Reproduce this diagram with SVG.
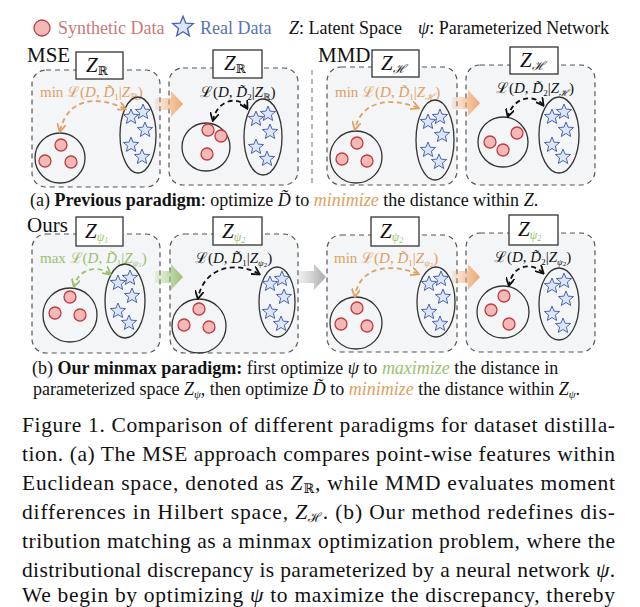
<svg xmlns="http://www.w3.org/2000/svg" width="640" height="607" viewBox="0 0 640 607">
<style>
text{font-family:"Liberation Serif","DejaVu Serif",serif;fill:#111}
.pan{fill:#f4f5f7;stroke:#555;stroke-width:1.2;stroke-dasharray:5,4}
.box{fill:#fff;stroke:#333;stroke-width:1.3}
.grp{fill:none;stroke:#333;stroke-width:1.3}
.syn{fill:#f3b9b9;stroke:#c03c3c;stroke-width:1.3}
.star{fill:#dde6f7;stroke:#4a64b4;stroke-width:1}
.lbl{font-size:21px;font-style:italic}
.f{font-size:15px}
.cap{font-size:21.5px}
.sm{font-size:18px}
.ca{fill:none;stroke-width:1.8;stroke-dasharray:5,3.5}
</style>
<defs>
<path id="st" d="M0,-8 L2.06,-2.83 7.61,-2.47 3.33,1.08 4.7,6.47 0,3.5 -4.7,6.47 -3.33,1.08 -7.61,-2.47 -2.06,-2.83Z"/>
<g id="stars" class="star"><use href="#st" x="-7" y="-18"/><use href="#st" x="5" y="-23"/><use href="#st" x="7" y="-5"/><use href="#st" x="-7" y="10"/><use href="#st" x="4" y="22"/></g>
<marker id="mo" viewBox="0 0 10 10" refX="8" refY="5" markerWidth="5" markerHeight="5" orient="auto-start-reverse"><path d="M0,0 L9,5 L0,10" fill="none" stroke="#e0a060" stroke-width="2"/></marker>
<marker id="mg" viewBox="0 0 10 10" refX="8" refY="5" markerWidth="5" markerHeight="5" orient="auto-start-reverse"><path d="M0,0 L9,5 L0,10" fill="none" stroke="#9cc070" stroke-width="2"/></marker>
<marker id="mk" viewBox="0 0 10 10" refX="8" refY="5" markerWidth="5" markerHeight="5" orient="auto-start-reverse"><path d="M0,0 L9,5 L0,10" fill="none" stroke="#111" stroke-width="2"/></marker>
<linearGradient id="go"><stop offset="0" stop-color="#f0b080" stop-opacity="0.2"/><stop offset="1" stop-color="#f0a870"/></linearGradient>
<linearGradient id="gg"><stop offset="0" stop-color="#a8cc88" stop-opacity="0.2"/><stop offset="1" stop-color="#9cc070"/></linearGradient>
<linearGradient id="gy"><stop offset="0" stop-color="#bbb" stop-opacity="0.2"/><stop offset="1" stop-color="#aaa"/></linearGradient>
<path id="bar" d="M0,-6 L16,-6 L16,-13 L28,0 L16,13 L16,6 L0,6Z"/>
</defs>

<g id="legend">
<circle class="syn" cx="42" cy="28" r="8"/>
<text x="58" y="34" font-size="18" style="fill:#c97a7a">Synthetic Data</text>
<use href="#st" transform="translate(183 27) scale(1.35)" class="star"/>
<text x="200" y="34" font-size="18" style="fill:#5a74b0">Real Data</text>
<text x="289" y="34" font-size="18"><tspan font-style="italic">Z</tspan>: Latent Space</text>
<text x="418" y="34" font-size="18"><tspan font-style="italic">ψ</tspan>: Parameterized Network</text>
</g>

<text x="27" y="62" font-size="21">MSE</text>
<text x="318" y="62" font-size="21">MMD</text>
<text x="27" y="232" font-size="21">Ours</text>
<line x1="312" y1="70" x2="312" y2="186" stroke="#888" stroke-width="1.2" stroke-dasharray="5,4"/>

<g id="p1">
<rect class="pan" x="32" y="70" width="128" height="117" rx="14"/>
<rect class="box" x="76" y="52" width="47" height="27"/>
<text class="lbl" x="86" y="72">Z<tspan font-size="12" font-style="normal" dy="3">ℝ</tspan></text>
<text class="f" x="40" y="97" style="fill:#e0a060">min ℒ(<tspan font-style="italic">D</tspan>, <tspan font-style="italic">D̃</tspan><tspan font-size="9" dy="3">1</tspan><tspan dy="-3">|</tspan><tspan font-style="italic">Z</tspan><tspan font-size="9" dy="3">ℝ</tspan><tspan dy="-3">)</tspan></text>
<circle class="grp" cx="60" cy="158" r="25"/>
<circle class="syn" cx="61" cy="145" r="6"/><circle class="syn" cx="45" cy="161" r="6"/><circle class="syn" cx="71" cy="162" r="6"/>
<ellipse class="grp" cx="138" cy="135" rx="18" ry="38"/>
<use href="#stars" x="138" y="135"/>
</g>
<g id="p2">
<rect class="pan" x="169" y="68" width="129" height="117" rx="14"/>
<rect class="box" x="213" y="50" width="49" height="28"/>
<text class="lbl" x="224" y="70">Z<tspan font-size="12" font-style="normal" dy="3">ℝ</tspan></text>
<text class="f" x="200" y="97">ℒ(<tspan font-style="italic">D</tspan>, <tspan font-style="italic">D̃</tspan><tspan font-size="9" dy="3">2</tspan><tspan dy="-3">|</tspan><tspan font-style="italic">Z</tspan><tspan font-size="9" dy="3">ℝ</tspan><tspan dy="-3">)</tspan></text>
<circle class="grp" cx="206" cy="147" r="24"/>
<circle class="syn" cx="208" cy="130" r="6"/><circle class="syn" cx="221" cy="136" r="6"/><circle class="syn" cx="207" cy="154" r="6"/>
<ellipse class="grp" cx="263" cy="137" rx="19" ry="38"/>
<use href="#stars" x="263" y="137"/>
</g>
<g id="p3">
<rect class="pan" x="327" y="67" width="130" height="118" rx="14"/>
<rect class="box" x="372" y="50" width="47" height="27"/>
<text class="lbl" x="381" y="70">Z<tspan font-size="12" dy="3">ℋ</tspan></text>
<text class="f" x="335" y="97" style="fill:#e0a060">min ℒ(<tspan font-style="italic">D</tspan>, <tspan font-style="italic">D̃</tspan><tspan font-size="9" dy="3">1</tspan><tspan dy="-3">|</tspan><tspan font-style="italic">Z</tspan><tspan font-size="9" dy="3" font-style="italic">ℋ</tspan><tspan dy="-3">)</tspan></text>
<circle class="grp" cx="356" cy="157" r="26"/>
<circle class="syn" cx="357" cy="143" r="6"/><circle class="syn" cx="342" cy="159" r="6"/><circle class="syn" cx="367" cy="161" r="6"/>
<ellipse class="grp" cx="435" cy="140" rx="19" ry="40"/>
<use href="#stars" x="435" y="140"/>
</g>
<g id="p4">
<rect class="pan" x="466" y="65" width="129" height="120" rx="14"/>
<rect class="box" x="510" y="47" width="48" height="27"/>
<text class="lbl" x="520" y="67">Z<tspan font-size="12" dy="3">ℋ</tspan></text>
<text class="f" x="496" y="93">ℒ(<tspan font-style="italic">D</tspan>, <tspan font-style="italic">D̃</tspan><tspan font-size="9" dy="3">2</tspan><tspan dy="-3">|</tspan><tspan font-style="italic">Z</tspan><tspan font-size="9" dy="3" font-style="italic">ℋ</tspan><tspan dy="-3">)</tspan></text>
<circle class="grp" cx="503" cy="142" r="25"/>
<circle class="syn" cx="490" cy="142" r="6"/><circle class="syn" cx="503" cy="150" r="6"/><circle class="syn" cx="517" cy="133" r="6"/>
<ellipse class="grp" cx="559" cy="135" rx="20" ry="38"/>
<use href="#stars" x="559" y="135"/>
</g>

<text x="30" y="206" class="sm">(a) <tspan font-weight="bold">Previous paradigm</tspan>: optimize <tspan font-style="italic">D̃</tspan> to <tspan font-style="italic" style="fill:#e0a060">minimize</tspan> the distance within <tspan font-style="italic">Z</tspan>.</text>

<g id="p5">
<rect class="pan" x="32" y="234" width="128" height="119" rx="14"/>
<rect class="box" x="76" y="217" width="47" height="29"/>
<text class="lbl" x="85" y="238">Z<tspan font-size="12" dy="3" font-style="italic" style="fill:#9cc070">ψ</tspan><tspan font-size="8" dy="2" style="fill:#9cc070">1</tspan></text>
<text class="f" x="40" y="263" style="fill:#9cc070">max ℒ(<tspan font-style="italic">D</tspan>, <tspan font-style="italic">D̃</tspan><tspan font-size="9" dy="3">1</tspan><tspan dy="-3">|</tspan><tspan font-style="italic">Z</tspan><tspan font-size="9" dy="3" font-style="italic">ψ</tspan><tspan font-size="7" dy="1">1</tspan><tspan dy="-4">)</tspan></text>
<circle class="grp" cx="70" cy="315" r="27"/>
<circle class="syn" cx="70" cy="297" r="6"/><circle class="syn" cx="55" cy="313" r="6"/><circle class="syn" cx="80" cy="315" r="6"/>
<ellipse class="grp" cx="125" cy="301" rx="20" ry="37"/>
<use href="#stars" x="125" y="301"/>
</g>
<g id="p6">
<rect class="pan" x="170" y="234" width="128" height="119" rx="14"/>
<rect class="box" x="213" y="217" width="49" height="28"/>
<text class="lbl" x="222" y="238">Z<tspan font-size="12" dy="3" font-style="italic" style="fill:#9cc070">ψ</tspan><tspan font-size="8" dy="2" style="fill:#9cc070">2</tspan></text>
<text class="f" x="195" y="263">ℒ(<tspan font-style="italic">D</tspan>, <tspan font-style="italic">D̃</tspan><tspan font-size="9" dy="3">1</tspan><tspan dy="-3">|</tspan><tspan font-style="italic">Z</tspan><tspan font-size="9" dy="3" font-style="italic">ψ</tspan><tspan font-size="7" dy="1">2</tspan><tspan dy="-4">)</tspan></text>
<circle class="grp" cx="199" cy="326" r="27"/>
<circle class="syn" cx="199" cy="309" r="6"/><circle class="syn" cx="184" cy="325" r="6"/><circle class="syn" cx="209" cy="327" r="6"/>
<ellipse class="grp" cx="277" cy="302" rx="18" ry="35"/>
<use href="#stars" x="277" y="302"/>
</g>
<g id="p7">
<rect class="pan" x="327" y="235" width="130" height="117" rx="14"/>
<rect class="box" x="371" y="217" width="48" height="29"/>
<text class="lbl" x="380" y="238">Z<tspan font-size="12" dy="3" font-style="italic" style="fill:#9cc070">ψ</tspan><tspan font-size="8" dy="2" style="fill:#9cc070">2</tspan></text>
<text class="f" x="334" y="263" style="fill:#e0a060">min ℒ(<tspan font-style="italic">D</tspan>, <tspan font-style="italic">D̃</tspan><tspan font-size="9" dy="3">1</tspan><tspan dy="-3">|</tspan><tspan font-style="italic">Z</tspan><tspan font-size="9" dy="3" font-style="italic">ψ</tspan><tspan font-size="7" dy="1">2</tspan><tspan dy="-4">)</tspan></text>
<circle class="grp" cx="356" cy="323" r="26"/>
<circle class="syn" cx="357" cy="308" r="6"/><circle class="syn" cx="341" cy="324" r="6"/><circle class="syn" cx="367" cy="326" r="6"/>
<ellipse class="grp" cx="436" cy="302" rx="19" ry="35"/>
<use href="#stars" x="436" y="302"/>
</g>
<g id="p8">
<rect class="pan" x="466" y="233" width="129" height="119" rx="14"/>
<rect class="box" x="509" y="215" width="49" height="30"/>
<text class="lbl" x="518" y="236">Z<tspan font-size="12" dy="3" font-style="italic" style="fill:#9cc070">ψ</tspan><tspan font-size="8" dy="2" style="fill:#9cc070">2</tspan></text>
<text class="f" x="494" y="262">ℒ(<tspan font-style="italic">D</tspan>, <tspan font-style="italic">D̃</tspan><tspan font-size="9" dy="3">2</tspan><tspan dy="-3">|</tspan><tspan font-style="italic">Z</tspan><tspan font-size="9" dy="3" font-style="italic">ψ</tspan><tspan font-size="7" dy="1">2</tspan><tspan dy="-4">)</tspan></text>
<circle class="grp" cx="503" cy="312" r="26"/>
<circle class="syn" cx="504" cy="296" r="6"/><circle class="syn" cx="491" cy="310" r="6"/><circle class="syn" cx="509" cy="324" r="6"/>
<ellipse class="grp" cx="559" cy="304" rx="20" ry="36"/>
<use href="#stars" x="559" y="304"/>
</g>

<g id="connectors">
<use href="#bar" x="155" y="104" fill="url(#go)"/>
<use href="#bar" x="452" y="103" fill="url(#go)"/>
<use href="#bar" x="155" y="277" fill="url(#gg)"/>
<use href="#bar" x="298" y="277" fill="url(#gy)"/>
<use href="#bar" x="452" y="277" fill="url(#go)"/>
<path class="ca" stroke="#e0a060" d="M125,109 C100,96 68,96 60,131" marker-start="url(#mo)" marker-end="url(#mo)"/>
<path class="ca" stroke="#111" d="M247,108 C240,96 218,98 213,120" marker-start="url(#mk)" marker-end="url(#mk)"/>
<path class="ca" stroke="#e0a060" d="M418,108 C395,98 362,98 355,129" marker-start="url(#mo)" marker-end="url(#mo)"/>
<path class="ca" stroke="#111" d="M543,105 C535,94 514,96 508,116" marker-start="url(#mk)" marker-end="url(#mk)"/>
<path class="ca" stroke="#9cc070" d="M110,274 C100,266 80,266 74,286" marker-start="url(#mg)" marker-end="url(#mg)"/>
<path class="ca" stroke="#111" d="M259,274 C240,262 205,264 198,298" marker-start="url(#mk)" marker-end="url(#mk)"/>
<path class="ca" stroke="#e0a060" d="M418,274 C395,264 360,264 355,296" marker-start="url(#mo)" marker-end="url(#mo)"/>
<path class="ca" stroke="#111" d="M543,273 C532,262 513,264 509,285" marker-start="url(#mk)" marker-end="url(#mk)"/>
</g>

<text x="32" y="374" class="sm">(b) <tspan font-weight="bold">Our minmax paradigm:</tspan> first optimize <tspan font-style="italic">ψ</tspan> to <tspan font-style="italic" style="fill:#9cc070">maximize</tspan> the distance in</text>
<text x="33" y="395" class="sm">parameterized space <tspan font-style="italic">Z</tspan><tspan font-size="11" dy="3" font-style="italic">ψ</tspan><tspan dy="-3">,  then optimize </tspan><tspan font-style="italic">D̃</tspan> to <tspan font-style="italic" style="fill:#e0a060">minimize</tspan> the distance within <tspan font-style="italic">Z</tspan><tspan font-size="11" dy="3" font-style="italic">ψ</tspan><tspan dy="-3">.</tspan></text>

<g>
<text class="cap" x="22" y="432" textLength="593" lengthAdjust="spacing">Figure 1.  Comparison of different paradigms for dataset distilla-</text>
<text class="cap" x="22" y="461" textLength="593" lengthAdjust="spacing">tion.  (a) The MSE approach compares point-wise features within</text>
<text class="cap" x="22" y="490" textLength="593" lengthAdjust="spacing">Euclidean space, denoted as <tspan font-style="italic">Z</tspan><tspan font-size="13" dy="3">ℝ</tspan><tspan dy="-3">, while MMD evaluates moment</tspan></text>
<text class="cap" x="22" y="519" textLength="593" lengthAdjust="spacing">differences in Hilbert space, <tspan font-style="italic">Z</tspan><tspan font-size="13" dy="3">ℋ</tspan><tspan dy="-3">.  (b) Our method redefines dis-</tspan></text>
<text class="cap" x="22" y="548" textLength="593" lengthAdjust="spacing">tribution matching as a minmax optimization problem, where the</text>
<text class="cap" x="22" y="577" textLength="593" lengthAdjust="spacing">distributional discrepancy is parameterized by a neural network <tspan font-style="italic">ψ</tspan>.</text>
<text class="cap" x="22" y="602" textLength="593" lengthAdjust="spacing">We begin by optimizing <tspan font-style="italic">ψ</tspan> to maximize the discrepancy, thereby</text>
</g>
</svg>
